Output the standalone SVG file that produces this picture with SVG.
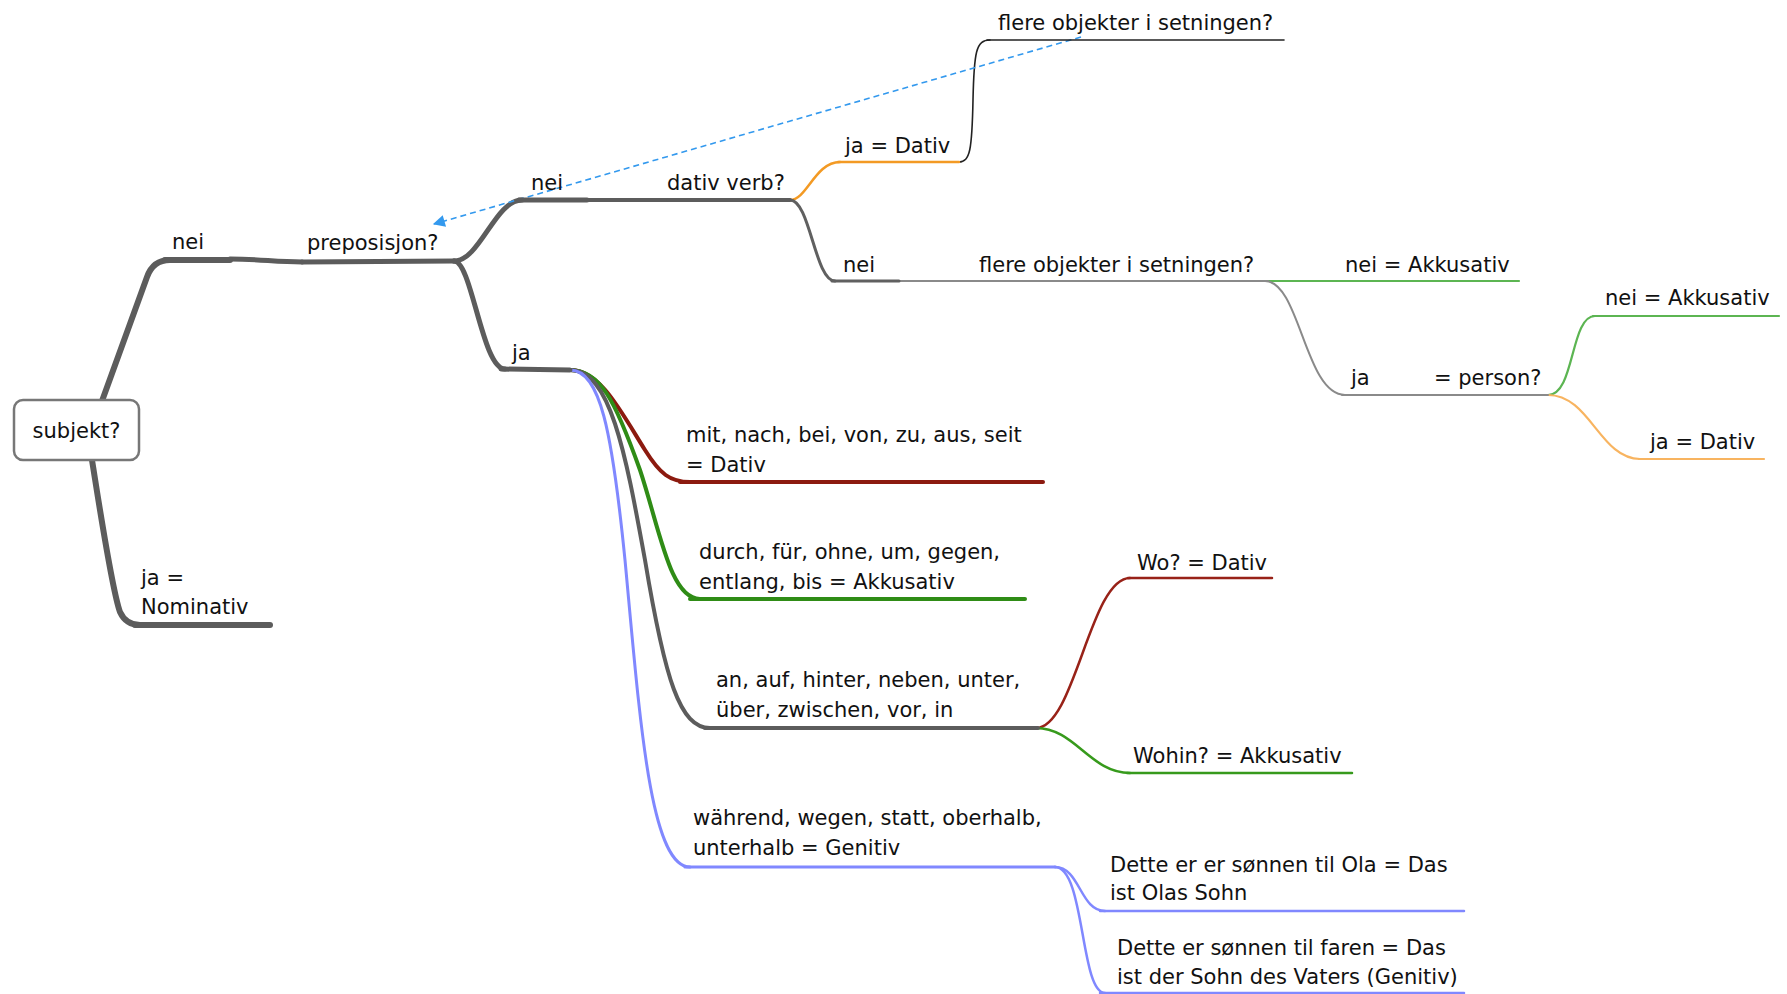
<svg xmlns="http://www.w3.org/2000/svg" width="1787" height="994" viewBox="0 0 1787 994">
<defs>
<style>
text{font-family:"DejaVu Sans","Liberation Sans",sans-serif;font-size:21px;fill:#111}
path{fill:none;stroke-linecap:round}
.g6{stroke:#5c5c5c;stroke-width:6}
.g5{stroke:#5c5c5c;stroke-width:5}
.g4{stroke:#5c5c5c;stroke-width:4}
.g3{stroke:#606060;stroke-width:3}
.lg{stroke:#8a8a8a;stroke-width:2}
.bk{stroke:#222;stroke-width:1.6}
.or{stroke:#f39a24;stroke-width:2.5}
.or2{stroke:#f8b460;stroke-width:2.2}
.lgr{stroke:#5cb552;stroke-width:2.2}
.red{stroke:#8c1a0f;stroke-width:4}
.grn{stroke:#2f8c16;stroke-width:4}
.blu{stroke:#8088ff;stroke-width:3}
.red2{stroke:#982218;stroke-width:2.5}
.grn2{stroke:#379a1c;stroke-width:2.5}
.blu2{stroke:#8088ff;stroke-width:2.5}
.dash{stroke:#3399ee;stroke-width:1.6;stroke-dasharray:6 4;stroke-linecap:butt}
</style>
<marker id="arr" viewBox="0 0 10 10" refX="9" refY="5" markerWidth="13" markerHeight="12" orient="auto" markerUnits="userSpaceOnUse">
<path d="M0,0 L10,5 L0,10 Z" style="fill:#3399ee;stroke:none"/>
</marker>
</defs>
<rect width="1787" height="994" fill="#fff"/>

<g id="connectors">
<path class="g6" d="M102 401 L147 277 Q153 260 170 260"/>
<path class="g6" d="M92 460 C100 510 112 590 120 612 Q126 625 140 625"/>
<path class="g5" d="M230 259 C260 259 275 262 302 262"/>
<path class="g5" d="M454 261 C480 261 495 200 522 200"/>
<path class="g5" d="M454 261 C472 261 482 369 505 369"/>
<path class="g4" d="M587 200 L668 200"/>
<path class="or" d="M790 200 C807 200 815 162 840 162"/>
<path class="bk" d="M959 162 C970 162 972 150 973 100 C974 52 976 40 990 40"/>
<path class="g3" d="M790 200 C810 200 815 281 835 281"/>
<path class="lg" d="M899 281 L971 281"/>
<path class="lgr" d="M1268 281 L1337 281"/>
<path class="lg" d="M1265 281 C1300 281 1305 395 1345 395"/>
<path class="lgr" d="M1548 395 C1575 395 1570 316 1595 316"/>
<path class="or2" d="M1548 395 C1590 395 1600 459 1640 459"/>
<path class="red" d="M570 370 C600 370 620 410 645 450 C660 474 670 482 690 482"/>
<path class="grn" d="M570 370 C600 370 615 400 640 470 C660 530 670 599 700 599"/>
<path class="g4" d="M570 370 C610 370 625 450 645 560 C665 680 680 728 710 728"/>
<path class="blu" d="M570 370 C600 370 612 430 625 560 C640 720 650 867 690 867"/>
<path class="red2" d="M1036 728 C1075 728 1090 578 1130 578"/>
<path class="grn2" d="M1036 728 C1075 728 1090 773 1130 773"/>
<path class="blu2" d="M1055 867 C1080 867 1080 911 1105 911"/>
<path class="blu2" d="M1055 867 C1085 867 1080 993 1105 993"/>
<path class="dash" d="M1081 37 L434 224" marker-end="url(#arr)"/>
</g>

<g id="n-subjekt">
<rect x="14" y="400" width="125" height="60" rx="9" fill="#fff" stroke="#777" stroke-width="2.5"/>
<text x="76.5" y="438" text-anchor="middle">subjekt?</text>
</g>
<g id="n-nei1">
<path class="g6" d="M165 260 L230 260"/>
<text x="172" y="249">nei</text>
</g>
<g id="n-preposisjon">
<path class="g5" d="M302 262 L454 261"/>
<text x="307" y="250">preposisjon?</text>
</g>
<g id="n-nominativ">
<path class="g6" d="M135 625 L270 625"/>
<text x="141" y="585">ja =</text>
<text x="141" y="614">Nominativ</text>
</g>
<g id="n-nei2">
<path class="g5" d="M519 200 L587 200"/>
<text x="531" y="190">nei</text>
</g>
<g id="n-dativverb">
<path class="g4" d="M668 200 L790 200"/>
<text x="667" y="190">dativ verb?</text>
</g>
<g id="n-ja1">
<path class="g5" d="M501 369 L570 370"/>
<text x="512" y="360">ja</text>
</g>
<g id="n-jadativ1">
<path class="or" d="M838 162 L959 162"/>
<text x="845" y="153">ja = Dativ</text>
</g>
<g id="n-flere1">
<path class="bk" d="M987 40 L1284 40"/>
<text x="998" y="30">flere objekter i setningen?</text>
</g>
<g id="n-nei3">
<path class="g3" d="M832 281 L899 281"/>
<text x="843" y="272">nei</text>
</g>
<g id="n-flere2">
<path class="lg" d="M971 281 L1268 281"/>
<text x="979" y="272">flere objekter i setningen?</text>
</g>
<g id="n-neiakk1">
<path class="lgr" d="M1337 281 L1519 281"/>
<text x="1345" y="272">nei = Akkusativ</text>
</g>
<g id="n-ja2">
<path class="lg" d="M1342 395 L1417 395"/>
<text x="1351" y="385">ja</text>
</g>
<g id="n-person">
<path class="lg" d="M1417 395 L1548 395"/>
<text x="1434" y="385">= person?</text>
</g>
<g id="n-neiakk2">
<path class="lgr" d="M1593 316 L1779 316"/>
<text x="1605" y="305">nei = Akkusativ</text>
</g>
<g id="n-jadativ2">
<path class="or2" d="M1639 459 L1764 459"/>
<text x="1650" y="449">ja = Dativ</text>
</g>
<g id="n-mit">
<path class="red" d="M680 482 L1043 482"/>
<text x="686" y="442">mit, nach, bei, von, zu, aus, seit</text>
<text x="686" y="472">= Dativ</text>
</g>
<g id="n-durch">
<path class="grn" d="M690 599 L1025 599"/>
<text x="699" y="559">durch, für, ohne, um, gegen,</text>
<text x="699" y="589">entlang, bis = Akkusativ</text>
</g>
<g id="n-an">
<path class="g4" d="M705 728 L1038 728"/>
<text x="716" y="687">an, auf, hinter, neben, unter,</text>
<text x="716" y="717">über, zwischen, vor, in</text>
</g>
<g id="n-waehrend">
<path class="blu" d="M685 867 L1055 867"/>
<text x="693" y="825">während, wegen, statt, oberhalb,</text>
<text x="693" y="855">unterhalb = Genitiv</text>
</g>
<g id="n-wo">
<path class="red2" d="M1128 578 L1272 578"/>
<text x="1137" y="570">Wo? = Dativ</text>
</g>
<g id="n-wohin">
<path class="grn2" d="M1127 773 L1352 773"/>
<text x="1133" y="763">Wohin? = Akkusativ</text>
</g>
<g id="n-dette1">
<path class="blu2" d="M1100 911 L1464 911"/>
<text x="1110" y="872">Dette er er sønnen til Ola = Das</text>
<text x="1110" y="900">ist Olas Sohn</text>
</g>
<g id="n-dette2">
<path class="blu2" d="M1100 993 L1464 993"/>
<text x="1117" y="955">Dette er sønnen til faren = Das</text>
<text x="1117" y="984">ist der Sohn des Vaters (Genitiv)</text>
</g>
</svg>
